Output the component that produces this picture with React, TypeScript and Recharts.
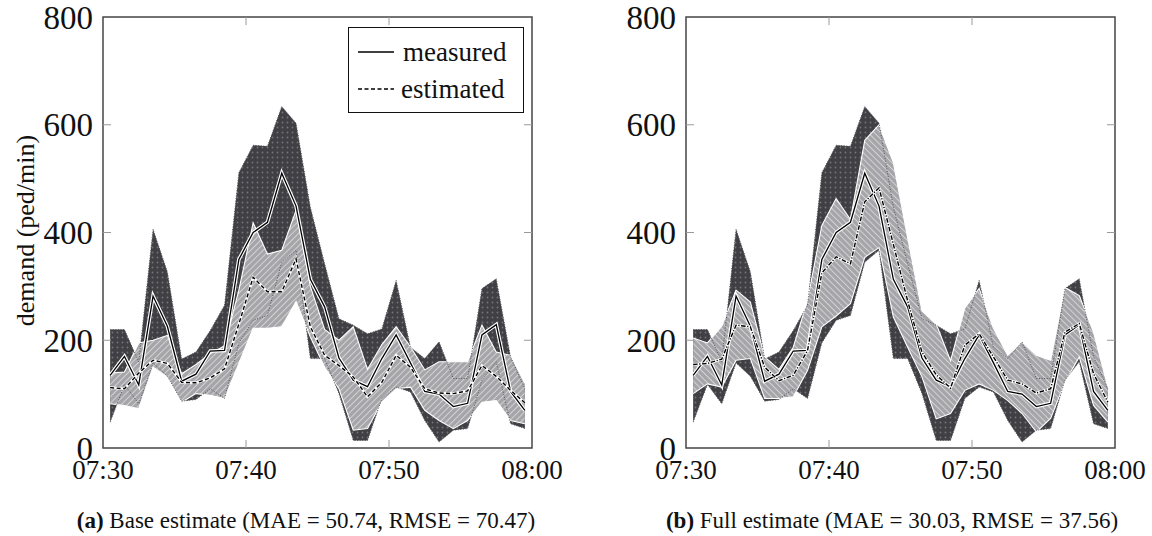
import React from 'react';
import {
  ComposedChart,
  Area,
  Line,
  XAxis,
  YAxis,
  ReferenceLine,
  ReferenceArea,
  Label,
} from 'recharts';

const FONT = '"Liberation Serif", "DejaVu Serif", serif';

// Minutes after 07:30 (one sample per minute, centred in the minute)
const minutesAfter0730 = [
  0.5, 1.5, 2.5, 3.5, 4.5, 5.5, 6.5, 7.5, 8.5, 9.5, 10.5, 11.5, 12.5, 13.5, 14.5,
  15.5, 16.5, 17.5, 18.5, 19.5, 20.5, 21.5, 22.5, 23.5, 24.5, 25.5, 26.5, 27.5, 28.5, 29.5,
];

// Measured demand (ped/min) and its range
const measured = [135, 170, 117, 282, 226, 124, 137, 180, 181, 350, 400, 419, 510, 449, 313, 262, 167, 126, 114, 166, 210, 158, 105, 100, 77, 83, 210, 229, 105, 70];
const measuredHi = [220, 220, 160, 406, 327, 165, 178, 218, 265, 511, 562, 560, 634, 603, 447, 342, 240, 228, 212, 221, 311, 187, 166, 197, 129, 129, 296, 314, 169, 110];
const measuredLo = [48, 118, 82, 158, 133, 87, 90, 110, 92, 195, 237, 246, 345, 367, 166, 166, 101, 14, 14, 92, 113, 104, 51, 11, 33, 36, 126, 160, 45, 36];

// Base estimate and its range
const baseEst = [112, 110, 139, 163, 157, 122, 121, 130, 147, 230, 317, 290, 290, 351, 225, 172, 153, 132, 95, 122, 172, 150, 110, 102, 101, 106, 153, 133, 107, 84];
const baseHi = [139, 141, 195, 200, 209, 138, 155, 175, 190, 293, 418, 360, 367, 441, 300, 220, 200, 225, 146, 192, 225, 188, 145, 160, 160, 160, 228, 178, 172, 120];
const baseLo = [82, 79, 73, 150, 132, 85, 101, 98, 92, 157, 222, 222, 225, 272, 206, 150, 110, 33, 36, 85, 110, 113, 70, 51, 36, 51, 85, 88, 51, 45];

// Full estimate and its range
const fullEst = [155, 157, 165, 228, 225, 150, 125, 135, 181, 325, 355, 342, 457, 483, 378, 273, 178, 136, 111, 191, 212, 169, 126, 119, 102, 110, 215, 231, 138, 85];
const fullHi = [204, 195, 226, 293, 271, 169, 146, 187, 274, 413, 463, 424, 571, 600, 530, 390, 255, 230, 162, 260, 296, 222, 172, 197, 172, 163, 298, 283, 215, 113];
const fullLo = [101, 119, 113, 163, 166, 92, 92, 95, 144, 225, 245, 268, 354, 372, 243, 187, 132, 54, 64, 107, 119, 107, 88, 64, 30, 55, 122, 169, 79, 48];

// Axes
const xTickValues = [0, 10, 20, 30];
const xTickLabels = ['07:30', '07:40', '07:50', '08:00'];
const yTickValues = [0, 200, 400, 600, 800];
const innerXTicks = [10, 20];
const innerYTicks = [200, 400, 600];
const X_MAX = 30;
const Y_MAX = 800;
const TICK_LEN_X = 0.56; // minutes
const TICK_LEN_Y = 15; // ped/min

type Row = {
  t: number;
  meas: number;
  measHi: number;
  measLo: number;
  measRange: [number, number];
  est: number;
  estRange: [number, number];
};

function buildRows(est: number[], lo: number[], hi: number[]): Row[] {
  return minutesAfter0730.map((t, i) => ({
    t,
    meas: measured[i],
    measHi: measuredHi[i],
    measLo: measuredLo[i],
    measRange: [measuredLo[i], measuredHi[i]],
    est: est[i],
    estRange: [lo[i], hi[i]],
  }));
}

const baseRows = buildRows(baseEst, baseLo, baseHi);
const fullRows = buildRows(fullEst, fullLo, fullHi);

function YLabelContent(props: any) {
  const vb = props.viewBox || { x: 0, y: 0, width: 0, height: 0 };
  const cx = vb.x - 18;
  const cy = vb.y + vb.height / 2 - 2;
  return (
    <text
      x={cx}
      y={cy}
      transform={`rotate(-90, ${cx}, ${cy})`}
      textAnchor="middle"
      dominantBaseline="central"
      fontFamily={FONT}
      fontSize={26}
      fill="#111"
    >
      demand (ped/min)
    </text>
  );
}

type PanelProps = {
  rows: Row[];
  hatchId: string;
  estDash: string;
  yLabel?: boolean;
};

function Panel({ rows, hatchId, estDash, yLabel }: PanelProps) {
  return (
    <ComposedChart
      width={590}
      height={490}
      data={rows}
      margin={{ top: 17, right: 58, bottom: 2, left: 43 }}
    >
      <XAxis
        type="number"
        dataKey="t"
        domain={[0, X_MAX]}
        ticks={xTickValues}
        interval={0}
        tickFormatter={(v: number) => xTickLabels[xTickValues.indexOf(v)]}
        axisLine={false}
        tickLine={false}
        tickSize={0}
        tickMargin={12}
        height={40}
        tick={{ fontSize: 27, fill: '#111', fontFamily: FONT }}
      />
      <YAxis
        type="number"
        domain={[0, Y_MAX]}
        ticks={yTickValues}
        interval={0}
        width={60}
        axisLine={false}
        tickLine={false}
        tickSize={0}
        tickMargin={10}
        tick={{ fontSize: 33, fill: '#111', fontFamily: FONT }}
      >
        {yLabel ? <Label content={YLabelContent} /> : null}
      </YAxis>

      <Area
        dataKey="measRange"
        type="linear"
        fill="url(#darkDots)"
        fillOpacity={1}
        stroke="none"
        isAnimationActive={false}
      />
      <Area
        dataKey="estRange"
        type="linear"
        fill={`url(#${hatchId})`}
        fillOpacity={1}
        stroke="#ffffff"
        strokeWidth={1.1}
        isAnimationActive={false}
      />
      <Line
        dataKey="measHi"
        type="linear"
        stroke="#55555a"
        strokeWidth={1}
        strokeDasharray="1 1.6"
        dot={false}
        isAnimationActive={false}
      />
      <Line
        dataKey="measLo"
        type="linear"
        stroke="#55555a"
        strokeWidth={1}
        strokeDasharray="1 1.6"
        dot={false}
        isAnimationActive={false}
      />
      <Line
        key="meas-halo"
        dataKey="meas"
        type="linear"
        stroke="#ffffff"
        strokeWidth={3.6}
        dot={false}
        isAnimationActive={false}
      />
      <Line
        key="meas-core"
        dataKey="meas"
        type="linear"
        stroke="#000000"
        strokeWidth={1.3}
        dot={false}
        isAnimationActive={false}
      />
      <Line
        key="est-halo"
        dataKey="est"
        type="linear"
        stroke="#ffffff"
        strokeWidth={2.6}
        dot={false}
        isAnimationActive={false}
      />
      <Line
        key="est-core"
        dataKey="est"
        type="linear"
        stroke="#000000"
        strokeWidth={1.4}
        strokeDasharray={estDash}
        dot={false}
        isAnimationActive={false}
      />

      {innerYTicks.map((v) => (
        <ReferenceLine
          key={`yl-${v}`}
          segment={[{ x: 0, y: v }, { x: TICK_LEN_X, y: v }]}
          stroke="#9a9a9a"
          strokeWidth={1}
          ifOverflow="visible"
        />
      ))}
      {innerYTicks.map((v) => (
        <ReferenceLine
          key={`yr-${v}`}
          segment={[{ x: X_MAX - TICK_LEN_X, y: v }, { x: X_MAX, y: v }]}
          stroke="#9a9a9a"
          strokeWidth={1}
          ifOverflow="visible"
        />
      ))}
      {innerXTicks.map((v) => (
        <ReferenceLine
          key={`xb-${v}`}
          segment={[{ x: v, y: 0 }, { x: v, y: TICK_LEN_Y }]}
          stroke="#9a9a9a"
          strokeWidth={1}
          ifOverflow="visible"
        />
      ))}
      {innerXTicks.map((v) => (
        <ReferenceLine
          key={`xt-${v}`}
          segment={[{ x: v, y: Y_MAX - TICK_LEN_Y }, { x: v, y: Y_MAX }]}
          stroke="#9a9a9a"
          strokeWidth={1}
          ifOverflow="visible"
        />
      ))}
      <ReferenceArea
        x1={0}
        x2={X_MAX}
        y1={0}
        y2={Y_MAX}
        fill="none"
        fillOpacity={0}
        stroke="#464646"
        strokeWidth={1.5}
        ifOverflow="visible"
      />
    </ComposedChart>
  );
}

function LegendBox() {
  return (
    <div
      style={{
        position: 'absolute',
        left: 348,
        top: 27,
        width: 174,
        height: 84,
        border: '1px solid #111',
        background: '#fff',
        fontFamily: FONT,
        fontSize: 27,
        color: '#111',
      }}
    >
      <div style={{ position: 'absolute', left: 8, top: 9, display: 'flex', alignItems: 'center', height: 30 }}>
        <svg width={38} height={10}>
          <line x1={1} y1={5} x2={37} y2={5} stroke="#000" strokeWidth={1.4} />
        </svg>
        <span style={{ marginLeft: 8, lineHeight: '30px' }}>measured</span>
      </div>
      <div style={{ position: 'absolute', left: 8, top: 46, display: 'flex', alignItems: 'center', height: 30 }}>
        <svg width={38} height={10}>
          <line x1={1} y1={5} x2={37} y2={5} stroke="#000" strokeWidth={1.4} strokeDasharray="4 2.5" />
        </svg>
        <span style={{ marginLeft: 6, lineHeight: '30px' }}>estimated</span>
      </div>
    </div>
  );
}

function Caption({ tag, text, center }: { tag: string; text: string; center: number }) {
  return (
    <div
      style={{
        position: 'absolute',
        left: center - 280,
        top: 508,
        width: 560,
        textAlign: 'center',
        fontFamily: FONT,
        fontSize: 23,
        lineHeight: '26px',
        color: '#111',
        whiteSpace: 'nowrap',
      }}
    >
      <b>{tag}</b> {text}
    </div>
  );
}

export default function App() {
  return (
    <div
      style={{
        position: 'absolute',
        left: 0,
        top: 0,
        width: 1152,
        height: 536,
        background: '#ffffff',
        overflow: 'hidden',
      }}
    >
      <svg width={0} height={0} style={{ position: 'absolute' }}>
        <defs>
          <pattern id="darkDots" width={5} height={5} patternUnits="userSpaceOnUse">
            <rect width={5} height={5} fill="#3f3f44" />
            <circle cx={2.5} cy={2.5} r={0.9} fill="#74747b" />
          </pattern>
          <pattern
            id="hatchUp"
            width={4.4}
            height={4.4}
            patternUnits="userSpaceOnUse"
            patternTransform="rotate(45)"
          >
            <rect width={4.4} height={4.4} fill="#a5a5a9" />
            <line x1={2.2} y1={0} x2={2.2} y2={4.4} stroke="#d4d4d6" strokeWidth={1} />
          </pattern>
          <pattern
            id="hatchDown"
            width={4.4}
            height={4.4}
            patternUnits="userSpaceOnUse"
            patternTransform="rotate(-45)"
          >
            <rect width={4.4} height={4.4} fill="#a5a5a9" />
            <line x1={2.2} y1={0} x2={2.2} y2={4.4} stroke="#d4d4d6" strokeWidth={1} />
          </pattern>
        </defs>
      </svg>

      <div style={{ position: 'absolute', left: 0, top: 0 }}>
        <Panel rows={baseRows} hatchId="hatchUp" estDash="4 2.5" yLabel />
        <LegendBox />
      </div>
      <div style={{ position: 'absolute', left: 583, top: 0 }}>
        <Panel rows={fullRows} hatchId="hatchDown" estDash="4.5 1.6 1.2 1.6" />
      </div>

      <Caption tag="(a)" text="Base estimate (MAE = 50.74, RMSE = 70.47)" center={306} />
      <Caption tag="(b)" text="Full estimate (MAE = 30.03, RMSE = 37.56)" center={892} />
    </div>
  );
}
